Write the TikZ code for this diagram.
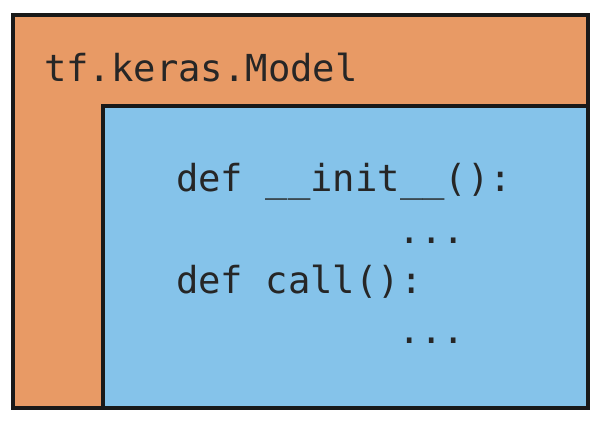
\documentclass[tikz,border=0pt]{standalone}
\usepackage{fontspec}
\newfontfamily\codefont{DejaVu Sans Mono}
\definecolor{outerorange}{HTML}{E89A65}
\definecolor{innerblue}{HTML}{85C3EA}
\definecolor{codeink}{HTML}{262626}
\begin{document}
\begin{tikzpicture}[x=1pt,y=-1pt,
  frame/.style={draw=black!90,line width=3.2pt},
  code/.style={anchor=base west,inner sep=0pt,text=codeink,font=\codefont\fontsize{37.2}{44}\selectfont}]
\useasboundingbox (0,0) rectangle (602,422);
\fill[white] (0,0) rectangle (602,422);
\path[frame,fill=outerorange] (13,15) rectangle (588,408);
\path[frame,fill=innerblue] (103,106) rectangle (588,408);
\node[code] (title) at (44,82) {tf.keras.Model};
\node[code] (init) at (176,192) {def \_\_init\_\_():};
\node[code] (dots1) at (398,243) {...};
\node[code] (call) at (176,293) {def call():};
\node[code] (dots2) at (398,343) {...};
\end{tikzpicture}
\end{document}
